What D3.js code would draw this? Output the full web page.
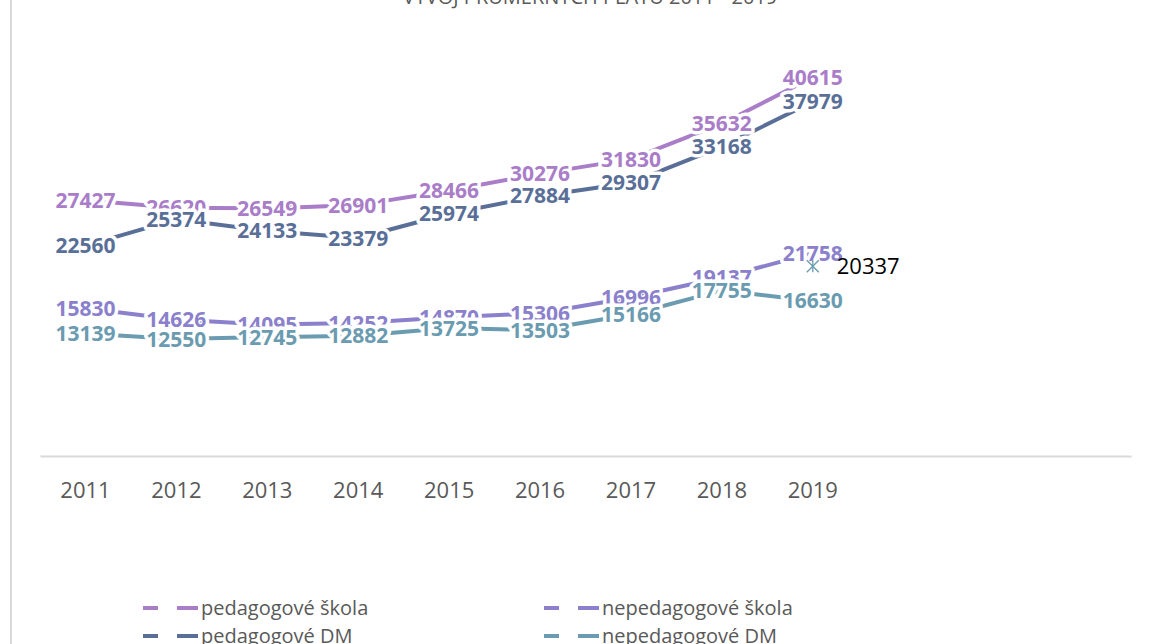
<!DOCTYPE html>
<html>
<head>
<meta charset="utf-8">
<script src="https://cdn.jsdelivr.net/npm/d3@7"></script>
<style>
  html, body { margin: 0; padding: 0; background: #fff; }
  svg { display: block; font-family: "Open Sans", sans-serif; }
</style>
</head>
<body>
<div id="chart"></div>
<script>
(function() {
  'use strict';

  // data
  var years = ['2011', '2012', '2013', '2014', '2015', '2016', '2017', '2018', '2019', '', '', ''];
  var pedSkola = [27427, 26620, 26549, 26901, 28466, 30276, 31830, 35632, 40615];
  var nepedSkola = [15830, 14626, 14095, 14252, 14870, 15306, 16996, 19137, 21758];
  var pedDM = [22560, 25374, 24133, 23379, 25974, 27884, 29307, 33168, 37979];
  var nepedDM = [13139, 12550, 12745, 12882, 13725, 13503, 15166, 17755, 16630];
  var extraPoint = [{ year: '2019', value: 20337 }];
  var seriesNames = ['pedagogové škola', 'nepedagogové škola', 'pedagogové DM', 'nepedagogové DM'];
  var title = 'VÝVOJ PRŮMĚRNÝCH PLATŮ 2011 - 2019';

  var colors = ['#a97dc8', '#8a80cc', '#5a6f98', '#6a9bb0'];

  var width = 1149, height = 644;
  var svg = d3.select('#chart')
    .append('svg')
    .attr('width', width)
    .attr('height', height);

  // chart area border (left edge visible)
  svg.append('line')
    .attr('x1', 11).attr('x2', 11)
    .attr('y1', 0).attr('y2', height)
    .attr('stroke', '#d9d9d9')
    .attr('stroke-width', 2);

  // title (cut off at top)
  svg.append('text')
    .attr('x', 590)
    .attr('y', 4)
    .attr('text-anchor', 'middle')
    .style('font-size', '20px')
    .style('fill', '#595959')
    .text(title);

  var x = d3.scaleBand()
    .domain(d3.range(years.length))
    .range([40, 1131]);

  var y = d3.scaleLinear()
    .domain([0, 45000])
    .range([456, 36.3]);

  // x axis
  var xAxis = d3.axisBottom(x)
    .tickFormat(function(i) { return years[i]; })
    .tickSize(0)
    .tickPadding(26);

  var ax = svg.append('g')
    .attr('transform', 'translate(0,' + y(0) + ')')
    .call(xAxis);
  ax.select('.domain')
    .attr('stroke', '#d9d9d9')
    .attr('stroke-width', 2);
  ax.selectAll('text')
    .style('font-size', '22px')
    .style('font-family', '"Open Sans", sans-serif')
    .style('fill', '#595959');

  var all = [pedSkola, nepedSkola, pedDM, nepedDM];

  var line = d3.line()
    .x(function(d, i) { return x(i) + x.bandwidth() / 2; })
    .y(function(d) { return y(d); });

  all.forEach(function(vals, s) {
    svg.append('path')
      .datum(vals)
      .attr('d', line)
      .attr('fill', 'none')
      .attr('stroke', colors[s])
      .attr('stroke-width', 4)
      .attr('stroke-linejoin', 'round');
  });

  // data labels, centred on points with white halo
  all.forEach(function(vals, s) {
    svg.append('g')
      .selectAll('text')
      .data(vals)
      .enter()
      .append('text')
      .attr('x', function(d, i) { return x(i) + x.bandwidth() / 2; })
      .attr('y', function(d) { return y(d); })
      .attr('dy', '0.36em')
      .attr('text-anchor', 'middle')
      .style('font-size', '21px')
      .style('font-weight', 'bold')
      .style('fill', colors[s])
      .style('stroke', '#fff')
      .style('stroke-width', 7)
      .style('stroke-linejoin', 'round')
      .style('paint-order', 'stroke')
      .text(function(d) { return d; });
  });

  // extra single point with star marker (drawn on top of labels)
  var ex = extraPoint.map(function(p) {
    return { cx: x(years.indexOf(p.year)) + x.bandwidth() / 2, cy: y(p.value), v: p.value };
  });
  ex.forEach(function(p) {
    var g = svg.append('g')
      .attr('transform', 'translate(' + p.cx + ',' + p.cy + ')')
      .attr('stroke', '#6a9bb0')
      .attr('stroke-width', 1.3);
    g.append('line').attr('x1', -6).attr('y1', -6).attr('x2', 6).attr('y2', 6);
    g.append('line').attr('x1', -6).attr('y1', 6).attr('x2', 6).attr('y2', -6);
    g.append('line').attr('x1', 0).attr('y1', -6).attr('x2', 0).attr('y2', 6);
    svg.append('text')
      .attr('x', p.cx + 24)
      .attr('y', p.cy)
      .attr('dy', '0.36em')
      .style('font-size', '22px')
      .style('fill', '#000')
      .text(p.v);
  });

  // legend
  var legendPos = [[143, 608], [544, 608], [143, 636], [544, 636]];
  seriesNames.forEach(function(name, s) {
    var lg = svg.append('g')
      .attr('transform', 'translate(' + legendPos[s][0] + ',' + legendPos[s][1] + ')');
    lg.append('line')
      .attr('x1', 0).attr('x2', 55)
      .attr('y1', 0).attr('y2', 0)
      .attr('stroke', colors[s])
      .attr('stroke-width', 4)
      .attr('stroke-dasharray', '15,19,21');
    lg.append('text')
      .attr('x', 58)
      .attr('y', 0)
      .attr('dy', '0.36em')
      .style('font-size', '20px')
      .style('fill', '#595959')
      .text(name);
  });
})();
</script>
</body>
</html>
